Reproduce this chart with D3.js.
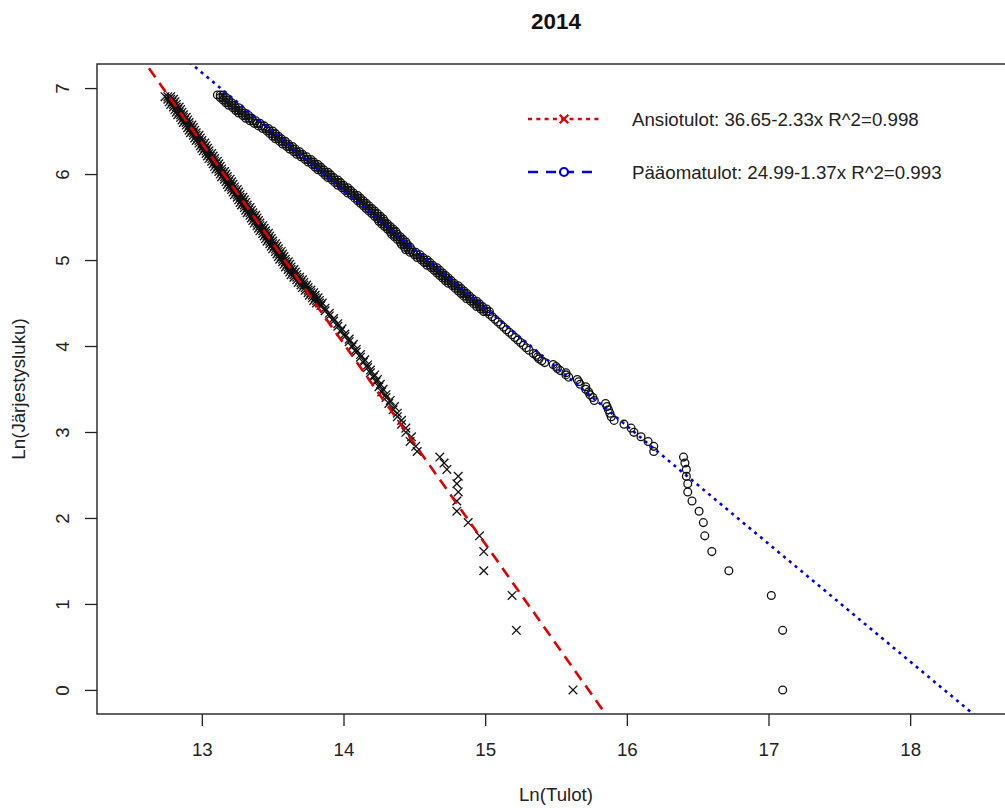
<!DOCTYPE html>
<html>
<head>
<meta charset="utf-8">
<script src="https://cdn.jsdelivr.net/npm/d3@7"></script>
<style>
body { margin: 0; background: #fff; }
svg { display: block; font-family: "Liberation Sans", Arial, sans-serif; }
</style>
</head>
<body>
<svg></svg>
<script>
// ranks 1..40 (y = ln rank) and the dense band above
const ansioTailY = [0, 0.693, 1.099, 1.386, 1.609, 1.792, 1.946, 2.079, 2.197, 2.303,
  2.398, 2.485, 2.565, 2.639, 2.708, 2.773, 2.833, 2.890, 2.944, 2.996,
  3.045, 3.091, 3.135, 3.178, 3.219, 3.258, 3.296, 3.332, 3.367, 3.401,
  3.434, 3.466, 3.497, 3.526, 3.555, 3.584, 3.611, 3.638, 3.664, 3.689];
const ansioTailX = [15.62, 15.22, 15.19, 14.99, 14.99, 14.96, 14.88, 14.80, 14.80, 14.81,
  14.80, 14.81, 14.73, 14.71, 14.68, 14.52, 14.51, 14.47, 14.48, 14.44,
  14.44, 14.41, 14.41, 14.38, 14.38, 14.35, 14.36, 14.32, 14.33, 14.30,
  14.30, 14.27, 14.28, 14.25, 14.26, 14.23, 14.24, 14.21, 14.22, 14.19];
const ansioBandY = [3.72,3.75,3.78,3.81,3.84,3.87,3.90,3.93,3.96,3.99,
  4.02,4.05,4.08,4.11,4.14,4.17,4.20,4.23,4.26,4.29,
  4.32,4.35,4.38,4.41,4.44,4.47,4.50,4.53,4.56,4.59,
  4.62,4.65,4.68,4.71,4.74,4.77,4.80,4.83,4.86,4.89,
  4.92,4.95,4.98,5.01,5.04,5.07,5.10,5.13,5.16,5.19,
  5.22,5.25,5.28,5.31,5.34,5.37,5.40,5.43,5.46,5.49,
  5.52,5.55,5.58,5.61,5.64,5.67,5.70,5.73,5.76,5.79,
  5.82,5.85,5.88,5.91,5.94,5.97,6.00,6.03,6.06,6.09,
  6.12,6.15,6.18,6.21,6.24,6.27,6.30,6.33,6.36,6.39,
  6.42,6.45,6.48,6.51,6.54,6.57,6.60,6.63,6.66,6.69,
  6.72,6.75,6.78,6.81,6.84,6.87,6.90];
const ansioBandX = [14.19,14.17,14.17,14.14,14.15,14.12,14.12,14.09,14.09,14.06,
  14.07,14.04,14.04,14.01,14.01,13.98,13.99,13.96,13.96,13.93,
  13.93,13.90,13.90,13.87,13.87,13.84,13.83,13.81,13.80,13.78,
  13.77,13.75,13.73,13.72,13.70,13.69,13.67,13.65,13.64,13.63,
  13.61,13.60,13.59,13.57,13.56,13.55,13.54,13.52,13.51,13.50,
  13.48,13.47,13.46,13.45,13.43,13.42,13.41,13.39,13.38,13.37,
  13.36,13.34,13.33,13.32,13.30,13.29,13.28,13.27,13.25,13.24,
  13.23,13.21,13.20,13.19,13.18,13.16,13.15,13.14,13.12,13.11,
  13.10,13.09,13.07,13.06,13.05,13.03,13.02,13.01,13.00,12.98,
  12.97,12.96,12.94,12.93,12.92,12.91,12.89,12.88,12.87,12.85,
  12.84,12.83,12.82,12.80,12.79,12.78,12.76];
// left and right edge of the solid part of the band (y 4.50 .. 6.90)
const ansioEdgeY = ansioBandY.slice(26);
const ansioLeftX = [13.81,13.79,13.78,13.76,13.75,13.73,13.71,13.70,13.68,13.67,
  13.65,13.63,13.62,13.61,13.59,13.58,13.57,13.55,13.54,13.53,
  13.52,13.50,13.49,13.48,13.46,13.45,13.44,13.43,13.41,13.40,
  13.39,13.37,13.36,13.35,13.34,13.32,13.31,13.30,13.28,13.27,
  13.26,13.25,13.23,13.22,13.21,13.19,13.18,13.17,13.16,13.14,
  13.13,13.12,13.10,13.09,13.08,13.07,13.05,13.04,13.03,13.01,
  13.00,12.99,12.98,12.96,12.95,12.94,12.92,12.91,12.90,12.89,
  12.87,12.86,12.85,12.83,12.82,12.81,12.80,12.78,12.77,12.76,
  12.74];
const ansioRightX = [13.85,13.83,13.82,13.80,13.79,13.77,13.75,13.74,13.72,13.71,
  13.69,13.67,13.66,13.65,13.63,13.62,13.61,13.59,13.58,13.57,
  13.56,13.54,13.53,13.52,13.50,13.49,13.48,13.47,13.45,13.44,
  13.43,13.41,13.40,13.39,13.38,13.36,13.35,13.34,13.32,13.31,
  13.30,13.29,13.27,13.26,13.25,13.23,13.22,13.21,13.20,13.18,
  13.17,13.16,13.14,13.13,13.12,13.11,13.09,13.08,13.07,13.05,
  13.04,13.03,13.02,13.00,12.99,12.98,12.96,12.95,12.94,12.93,
  12.91,12.90,12.89,12.87,12.86,12.85,12.84,12.82,12.81,12.80,
  12.78];

const paaTailY = [0, 0.693, 1.099, 1.386, 1.609, 1.792, 1.946, 2.079, 2.197, 2.303,
  2.398, 2.485, 2.565, 2.639, 2.708, 2.773, 2.833, 2.890, 2.944, 2.996,
  3.045, 3.091, 3.135, 3.178, 3.219, 3.258, 3.296, 3.332, 3.367, 3.401,
  3.434, 3.466, 3.497, 3.526, 3.555, 3.584, 3.611, 3.638, 3.664, 3.689,
  3.714, 3.738, 3.761, 3.784, 3.807, 3.829, 3.850, 3.871, 3.892, 3.912];
const paaTailX = [17.10, 17.10, 17.02, 16.72, 16.60, 16.55, 16.54, 16.51, 16.46, 16.43,
  16.43, 16.42, 16.42, 16.41, 16.40, 16.19, 16.19, 16.15, 16.10, 16.05,
  16.03, 15.98, 15.91, 15.89, 15.88, 15.87, 15.86, 15.85, 15.77, 15.76,
  15.74, 15.73, 15.71, 15.71, 15.67, 15.66, 15.65, 15.59, 15.57, 15.57,
  15.53, 15.51, 15.50, 15.48, 15.42, 15.40, 15.38, 15.37, 15.36, 15.34];
const paaBandY = [3.95,3.98,4.01,4.04,4.07,4.10,4.13,4.16,4.19,4.22,
  4.25,4.28,4.31,4.34,4.37,4.40,4.43,4.46,4.49,4.52,
  4.55,4.58,4.61,4.64,4.67,4.70,4.73,4.76,4.79,4.82,
  4.85,4.88,4.91,4.94,4.97,5.00,5.03,5.06,5.09,5.12,
  5.15,5.18,5.21,5.24,5.27,5.30,5.33,5.36,5.39,5.42,
  5.45,5.48,5.51,5.54,5.57,5.60,5.63,5.66,5.69,5.72,
  5.75,5.78,5.81,5.84,5.87,5.90,5.93,5.96,5.99,6.02,
  6.05,6.08,6.11,6.14,6.17,6.20,6.23,6.26,6.29,6.32,
  6.35,6.38,6.41,6.44,6.47,6.50,6.53,6.56,6.59,6.62,
  6.65,6.68,6.71,6.74,6.77,6.80,6.83,6.86,6.89,6.92];
const paaBandX = [15.31,15.29,15.27,15.25,15.23,15.21,15.19,15.17,15.15,15.13,
  15.11,15.09,15.07,15.05,15.03,15.01,14.99,14.96,14.94,14.92,
  14.89,14.87,14.85,14.83,14.81,14.79,14.76,14.74,14.72,14.70,
  14.68,14.66,14.64,14.61,14.59,14.57,14.54,14.52,14.49,14.46,
  14.45,14.43,14.42,14.40,14.38,14.36,14.35,14.33,14.31,14.29,
  14.27,14.26,14.24,14.22,14.20,14.18,14.16,14.14,14.12,14.10,
  14.08,14.05,14.03,14.01,13.98,13.96,13.94,13.91,13.89,13.87,
  13.84,13.82,13.80,13.77,13.75,13.72,13.69,13.67,13.64,13.62,
  13.59,13.57,13.54,13.52,13.50,13.48,13.45,13.42,13.39,13.36,
  13.33,13.31,13.28,13.26,13.24,13.21,13.19,13.17,13.15,13.13];
// band edges, y 4.40 .. 6.92
const paaEdgeY = paaBandY.slice(15);
const paaLeftX = [14.99,14.97,14.94,14.92,14.90,14.87,14.85,14.83,14.81,14.79,
  14.77,14.74,14.72,14.70,14.68,14.66,14.64,14.62,14.59,14.57,
  14.55,14.52,14.50,14.47,14.44,14.43,14.41,14.40,14.38,14.36,
  14.34,14.33,14.31,14.29,14.27,14.25,14.24,14.22,14.20,14.18,
  14.16,14.14,14.12,14.10,14.08,14.06,14.03,14.01,13.99,13.96,
  13.94,13.92,13.89,13.87,13.85,13.82,13.80,13.78,13.75,13.73,
  13.70,13.67,13.65,13.62,13.60,13.57,13.55,13.52,13.50,13.48,
  13.46,13.43,13.40,13.37,13.34,13.31,13.29,13.26,13.24,13.22,
  13.19,13.17,13.15,13.13,13.11];
const paaRightX = [15.03,15.01,14.98,14.96,14.94,14.91,14.89,14.87,14.85,14.83,
  14.81,14.78,14.76,14.74,14.72,14.70,14.68,14.66,14.63,14.61,
  14.59,14.56,14.54,14.51,14.48,14.47,14.45,14.44,14.42,14.40,
  14.38,14.37,14.35,14.33,14.31,14.29,14.28,14.26,14.24,14.22,
  14.20,14.18,14.16,14.14,14.12,14.10,14.07,14.05,14.03,14.00,
  13.98,13.96,13.93,13.91,13.89,13.86,13.84,13.82,13.79,13.77,
  13.74,13.71,13.69,13.66,13.64,13.61,13.59,13.56,13.54,13.52,
  13.50,13.47,13.44,13.41,13.38,13.35,13.33,13.30,13.28,13.26,
  13.23,13.21,13.19,13.17,13.15];

// fitted lines: y = a + b*x
const fitNames = ['Ansiotulot', 'Pääomatulot'];
const fitA = [36.65, 24.99];
const fitB = [-2.33, -1.37];
const fitR2 = ['0.998', '0.993'];

const xTicks = [13, 14, 15, 16, 17, 18];
const yTicks = [0, 1, 2, 3, 4, 5, 6, 7];

const width = 1005, height = 808;
const plot = {left: 97, right: 1015, top: 64, bottom: 714};
const fontSize = 18.7;

const svg = d3.select('svg')
    .attr('width', width)
    .attr('height', height);

const x = d3.scaleLinear().domain([12.26, 18.74]).range([plot.left, plot.right]);
const y = d3.scaleLinear().domain([-0.28, 7.28]).range([plot.bottom, plot.top]);

const zip = (xs, ys) => xs.map((v, i) => ({x: v, y: ys[i]}));
const ansio = zip(ansioTailX.concat(ansioBandX), ansioTailY.concat(ansioBandY))
  .concat(zip(ansioLeftX, ansioEdgeY), zip(ansioRightX, ansioEdgeY));
const paa = zip(paaTailX.concat(paaBandX), paaTailY.concat(paaBandY))
  .concat(zip(paaLeftX, paaEdgeY), zip(paaRightX, paaEdgeY));

svg.append('defs').append('clipPath').attr('id', 'plotclip')
  .append('rect')
    .attr('x', plot.left).attr('y', plot.top)
    .attr('width', plot.right - plot.left).attr('height', plot.bottom - plot.top);

// points
const cross = 'M-4.3,-4.3L4.3,4.3M-4.3,4.3L4.3,-4.3';
svg.append('g').selectAll('path').data(ansio).enter()
  .append('path')
    .attr('d', cross)
    .attr('transform', d => `translate(${x(d.x)},${y(d.y)})`)
    .attr('fill', 'none')
    .attr('stroke', '#111')
    .attr('stroke-width', 1.3);

svg.append('g').selectAll('circle').data(paa).enter()
  .append('circle')
    .attr('cx', d => x(d.x))
    .attr('cy', d => y(d.y))
    .attr('r', 3.9)
    .attr('fill', 'none')
    .attr('stroke', '#111')
    .attr('stroke-width', 1.3);

// regression lines
const lineStyles = [
  {color: '#e00000', dash: '11,7'},
  {color: '#0000e6', dash: '3,4.5'}
];
const lines = svg.append('g').attr('clip-path', 'url(#plotclip)');
fitA.forEach((a, i) => {
  const [x0, x1] = x.domain();
  lines.append('line')
    .attr('x1', x(x0)).attr('y1', y(a + fitB[i] * x0))
    .attr('x2', x(x1)).attr('y2', y(a + fitB[i] * x1))
    .attr('stroke', lineStyles[i].color)
    .attr('stroke-width', 2.6)
    .attr('stroke-dasharray', lineStyles[i].dash);
});

// box
svg.append('rect')
  .attr('x', plot.left).attr('y', plot.top)
  .attr('width', plot.right - plot.left).attr('height', plot.bottom - plot.top)
  .attr('fill', 'none')
  .attr('stroke', '#222')
  .attr('stroke-width', 1.4);

// axes
const xAxis = svg.append('g')
  .attr('transform', `translate(0,${plot.bottom})`)
  .call(d3.axisBottom(x).tickValues(xTicks).tickSize(12).tickPadding(17).tickFormat(d3.format('d')));
const yAxis = svg.append('g')
  .attr('transform', `translate(${plot.left},0)`)
  .call(d3.axisLeft(y).tickValues(yTicks).tickSize(12).tickFormat(d3.format('d')));

[xAxis, yAxis].forEach(g => {
  g.select('.domain').remove();
  g.selectAll('line').attr('stroke', '#222').attr('stroke-width', 1.3);
  g.selectAll('text')
    .attr('fill', '#222')
    .style('font-size', fontSize + 'px')
    .style('font-family', '"Liberation Sans", Arial, sans-serif');
});
yAxis.selectAll('text')
  .attr('x', null).attr('dy', null)
  .attr('text-anchor', 'middle')
  .attr('transform', 'translate(-28.3,0) rotate(-90)');

// titles
svg.append('text')
  .attr('x', (plot.left + plot.right) / 2).attr('y', 29)
  .attr('text-anchor', 'middle')
  .style('font-size', '22.4px').style('font-weight', 'bold')
  .attr('fill', '#111')
  .text('2014');

svg.append('text')
  .attr('x', (plot.left + plot.right) / 2).attr('y', 801)
  .attr('text-anchor', 'middle')
  .style('font-size', fontSize + 'px')
  .attr('fill', '#222')
  .text('Ln(Tulot)');

svg.append('text')
  .attr('transform', `translate(25,${(plot.top + plot.bottom) / 2}) rotate(-90)`)
  .attr('text-anchor', 'middle')
  .style('font-size', fontSize + 'px')
  .attr('fill', '#222')
  .text('Ln(Järjestysluku)');

// legend
const legendRows = [119, 172];
const legendStyles = [
  {color: '#e00000', dash: '4,4.3', mark: 'cross'},
  {color: '#0000e6', dash: '10,8', mark: 'circle'}
];
const legend = svg.append('g');
fitNames.forEach((name, i) => {
  const ly = legendRows[i], st = legendStyles[i];
  legend.append('line')
    .attr('x1', 528).attr('x2', 600).attr('y1', ly).attr('y2', ly)
    .attr('stroke', st.color).attr('stroke-width', 2.4)
    .attr('stroke-dasharray', st.dash);
  if (st.mark === 'cross') {
    legend.append('path')
      .attr('d', cross)
      .attr('transform', `translate(564,${ly})`)
      .attr('fill', 'none').attr('stroke', st.color).attr('stroke-width', 2.2);
  } else {
    legend.append('circle')
      .attr('cx', 564).attr('cy', ly).attr('r', 4)
      .attr('fill', '#fff').attr('stroke', st.color).attr('stroke-width', 2.2);
  }
  legend.append('text')
    .attr('x', 632).attr('y', ly + 6.7)
    .style('font-size', fontSize + 'px')
    .attr('fill', '#222')
    .text(`${name}: ${fitA[i]}${fitB[i]}x R^2=${fitR2[i]}`);
});
</script>
</body>
</html>
